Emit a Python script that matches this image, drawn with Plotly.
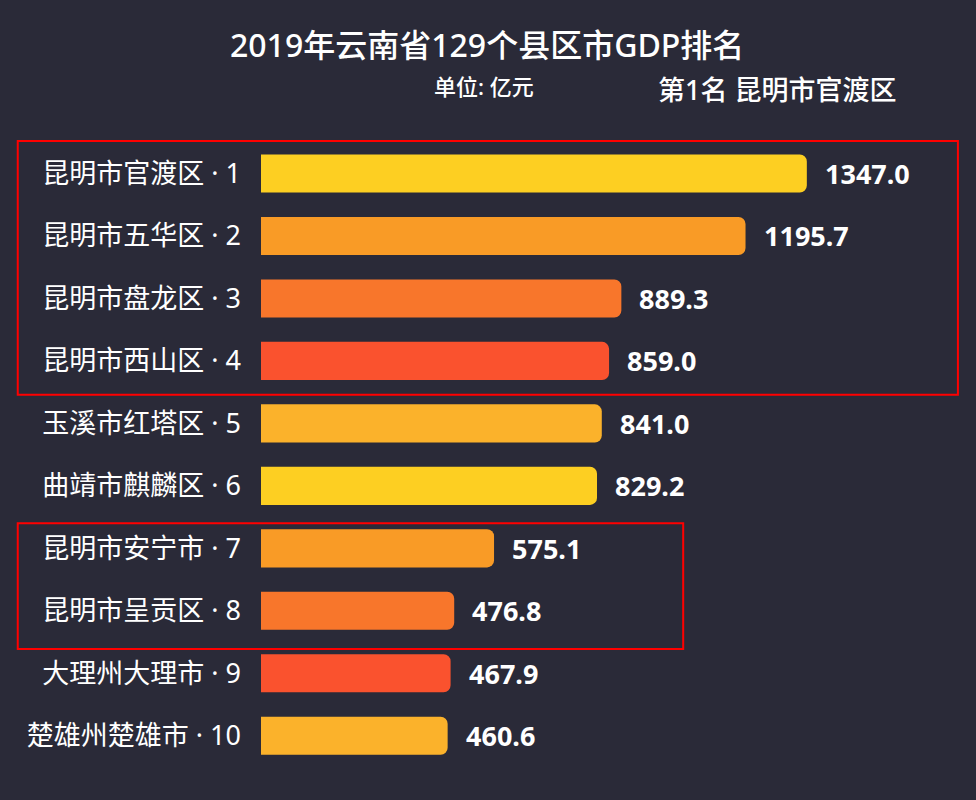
import plotly.graph_objects as go

names = ["昆明市官渡区", "昆明市五华区", "昆明市盘龙区", "昆明市西山区", "玉溪市红塔区",
         "曲靖市麒麟区", "昆明市安宁市", "昆明市呈贡区", "大理州大理市", "楚雄州楚雄市"]
ranks = [1, 2, 3, 4, 5, 6, 7, 8, 9, 10]
gdp = [1347.0, 1195.7, 889.3, 859.0, 841.0, 829.2, 575.1, 476.8, 467.9, 460.6]
palette = ["#FDCF22", "#F99B26", "#F8762B", "#FA522E", "#FBB22B"]

labels = [f"{n} · {r}" for n, r in zip(names, ranks)]
colors = [palette[i % len(palette)] for i in range(len(gdp))]

BG = "#2a2a38"
FONT = "Noto Sans, Noto Sans CJK SC"

fig = go.Figure()
fig.add_trace(go.Bar(
    x=gdp, y=labels, orientation="h",
    marker=dict(color=colors, cornerradius=7, line=dict(width=0)),
    width=0.61, hoverinfo="skip",
))

for v, lab in zip(gdp, labels):
    fig.add_annotation(x=v, y=lab, text=f"{v:.1f}", showarrow=False,
                       xanchor="left", yanchor="middle", xshift=16,
                       font=dict(family=FONT, size=27, color="white", weight="bold"))

# highlight boxes
fig.add_shape(type="rect", xref="paper", yref="y", x0=-0.348, x1=0.997, y0=-0.52, y1=3.54,
              line=dict(color="#ff0000", width=2), fillcolor="rgba(0,0,0,0)")
fig.add_shape(type="rect", xref="paper", yref="y", x0=-0.348, x1=0.604, y0=5.6, y1=7.61,
              line=dict(color="#ff0000", width=2), fillcolor="rgba(0,0,0,0)")

fig.add_annotation(xref="paper", yref="paper", x=(487 - 261) / 699, y=1 + (140 - 45) / 627,
                   text="2019年云南省129个县区市GDP排名", showarrow=False,
                   xanchor="center", yanchor="middle",
                   font=dict(family=FONT, size=32, color="white", weight=500))
fig.add_annotation(xref="paper", yref="paper", x=(432 - 261) / 699, y=1 + (140 - 86) / 627,
                   text="单位: 亿元", showarrow=False, xanchor="left", yanchor="middle",
                   font=dict(family=FONT, size=22, color="white", weight=500))
fig.add_annotation(xref="paper", yref="paper", x=(898 - 261) / 699, y=1 + (140 - 90) / 627,
                   text="第1名 昆明市官渡区", showarrow=False, xanchor="right", yanchor="middle",
                   font=dict(family=FONT, size=27, color="white", weight=500))

fig.update_layout(
    width=976, height=800,
    margin=dict(l=261, r=16, t=140, b=33),
    paper_bgcolor=BG, plot_bgcolor=BG,
    showlegend=False,
    xaxis=dict(range=[0, 1725], visible=False, fixedrange=True),
    yaxis=dict(autorange="reversed", showgrid=False, zeroline=False, showline=False,
               ticks="", ticklabelstandoff=19, fixedrange=True,
               tickfont=dict(family=FONT, size=27, color="white", weight=400)),
)

fig.write_html("out.html", config={"displayModeBar": False},
               post_script="document.body.style.margin='0';document.body.style.overflow='hidden';")
